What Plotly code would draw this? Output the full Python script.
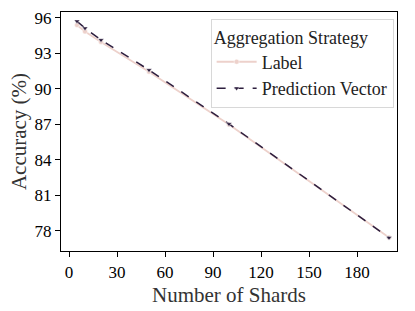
import plotly.graph_objects as go

shards = [5, 10, 20, 50, 100, 200]
label_acc = [95.4, 94.85, 93.97, 91.45, 87.0, 77.45]
pred_acc = [95.72, 95.13, 94.14, 91.6, 87.04, 77.43]
x_ticks = [0, 30, 60, 90, 120, 150, 180]
y_ticks = [78, 81, 84, 87, 90, 93, 96]

FONT = "Liberation Serif, Times New Roman, serif"

fig = go.Figure()
fig.add_trace(go.Scatter(
    x=shards, y=label_acc, name="Label", mode="lines+markers",
    line=dict(color="#edd1cb", width=1.8),
    marker=dict(symbol="circle", size=5, color="#edd1cb", line=dict(color="white", width=0.5)),
))
fig.add_trace(go.Scatter(
    x=shards, y=pred_acc, name="Prediction Vector", mode="lines+markers",
    line=dict(color="#2d1e3e", width=1.5, dash="dash"),
    marker=dict(symbol="triangle-down", size=5, color="#2d1e3e", line=dict(color="white", width=0.5)),
))

axis_common = dict(
    showgrid=False, zeroline=False, showline=True, linecolor="black", linewidth=1.2,
    mirror=True, ticks="outside", ticklen=5, tickwidth=1.2, tickcolor="black",
    tickfont=dict(family=FONT, size=17, color="black"), automargin=False,
)
fig.update_xaxes(range=[-5, 205], tickvals=x_ticks,
                 title=dict(text="Number of Shards", font=dict(family=FONT, size=21, color="#333"), standoff=6),
                 **axis_common)
fig.update_yaxes(range=[76.3, 96.5], tickvals=y_ticks,
                 title=dict(text="Accuracy (%)", font=dict(family=FONT, size=21, color="#333"), standoff=2),
                 **axis_common)

fig.update_layout(
    width=415, height=311,
    margin=dict(l=61, r=18, t=12, b=60),
    paper_bgcolor="white", plot_bgcolor="white",
    font=dict(family=FONT, color="#222"),
    legend=dict(
        x=0.99, y=0.97, xanchor="right", yanchor="top",
        bgcolor="rgba(255,255,255,0.8)", bordercolor="#d8d8d8", borderwidth=1,
        font=dict(family=FONT, size=18, color="#222"),
        title=dict(text="Aggregation Strategy", font=dict(family=FONT, size=18, color="#222")),
        itemwidth=40, tracegroupgap=0,
    ),
)

fig.write_html("out.html", config={"displayModeBar": False},
               post_script="document.body.style.margin='0';document.body.style.overflow='hidden';")
